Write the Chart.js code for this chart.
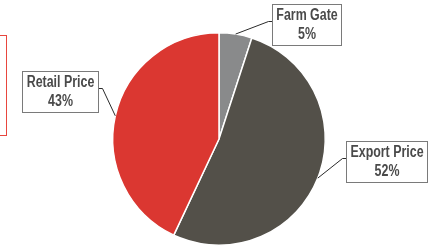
<!DOCTYPE html>
<html><head><meta charset="utf-8">
<script src="https://cdn.jsdelivr.net/npm/chart.js@4/dist/chart.umd.min.js"></script>
<style>
html,body{margin:0;padding:0;background:#fff;width:433px;height:247px;overflow:hidden;}
#wrap{position:relative;width:433px;height:247px;}
#frame{position:absolute;left:-100px;top:35px;width:105px;height:99px;border:1px solid #e8463e;}
canvas{position:absolute;left:0;top:0;}
</style></head><body>
<div id="wrap"><div id="frame"></div><canvas id="c" width="433" height="247"></canvas></div>
<script>
const categories = ["Farm Gate", "Export Price", "Retail Price"];
const shares = [5, 52, 43];
const pctLabels = ["5%", "52%", "43%"];
const colors = ["#898a8b", "#535049", "#db3731"];
// box centre offsets from the arc's outer midpoint, and which side the leader attaches to
const labelOffsets = [
  {dx: 71, dy: -10, side: "left"},
  {dx: 69, dy: -17, side: "left"},
  {dx: -55, dy: -24.5, side: "right"}
];
const FONT = "bold 16px 'Liberation Sans', Arial, sans-serif";
const SQUEEZE = 0.775;

const labelPlugin = {
  id: "boxLabels",
  afterDatasetsDraw(chart) {
    const ctx = chart.ctx;
    const meta = chart.getDatasetMeta(0);
    ctx.save();
    ctx.font = FONT;
    meta.data.forEach((arc, i) => {
      const p = arc.getProps(["x","y","startAngle","endAngle","outerRadius"], true);
      const mid = (p.startAngle + p.endAngle) / 2;
      const ex = p.x + Math.cos(mid) * p.outerRadius;
      const ey = p.y + Math.sin(mid) * p.outerRadius;
      const o = labelOffsets[i];
      const cx = ex + o.dx, cy = ey + o.dy;
      const tw = Math.max(ctx.measureText(categories[i]).width, ctx.measureText(pctLabels[i]).width) * SQUEEZE;
      const w = Math.round(tw + 8);
      const h = 41;
      const bx = Math.round(cx - w/2) + 0.5, by = Math.round(cy - h/2) + 0.5;
      // leader line
      const ay = Math.round(by + 16) + 0.5;
      const ax = o.side === "left" ? bx : bx + w;
      const kx = o.side === "left" ? ax - 4 : ax + 4;
      ctx.strokeStyle = "#2a2a2a";
      ctx.lineWidth = 1;
      ctx.beginPath();
      ctx.moveTo(ex, ey);
      ctx.lineTo(kx, ay);
      ctx.lineTo(ax, ay);
      ctx.stroke();
      // box
      ctx.fillStyle = "#fff";
      ctx.fillRect(bx, by, w, h);
      ctx.strokeStyle = "#7a7a7a";
      ctx.strokeRect(bx, by, w, h);
      ctx.fillStyle = "#4a4a4a";
      ctx.textAlign = "center";
      ctx.textBaseline = "middle";
      [[categories[i], 11.5], [pctLabels[i], 30]].forEach(([t, yy]) => {
        ctx.save();
        ctx.translate(bx + w/2, by + yy);
        ctx.scale(SQUEEZE, 1);
        ctx.fillText(t, 0, 0);
        ctx.restore();
      });
    });
    ctx.restore();
  }
};

new Chart(document.getElementById("c"), {
  type: "pie",
  data: {
    labels: categories,
    datasets: [{
      data: shares,
      backgroundColor: colors,
      borderColor: "#ffffff",
      borderWidth: 1.5
    }]
  },
  options: {
    responsive: false,
    animation: false,
    layout: {padding: {top: 32, bottom: 1, left: 5, right: 0}},
    plugins: {legend: {display: false}, tooltip: {enabled: false}}
  },
  plugins: [labelPlugin]
});
</script>
</body></html>
